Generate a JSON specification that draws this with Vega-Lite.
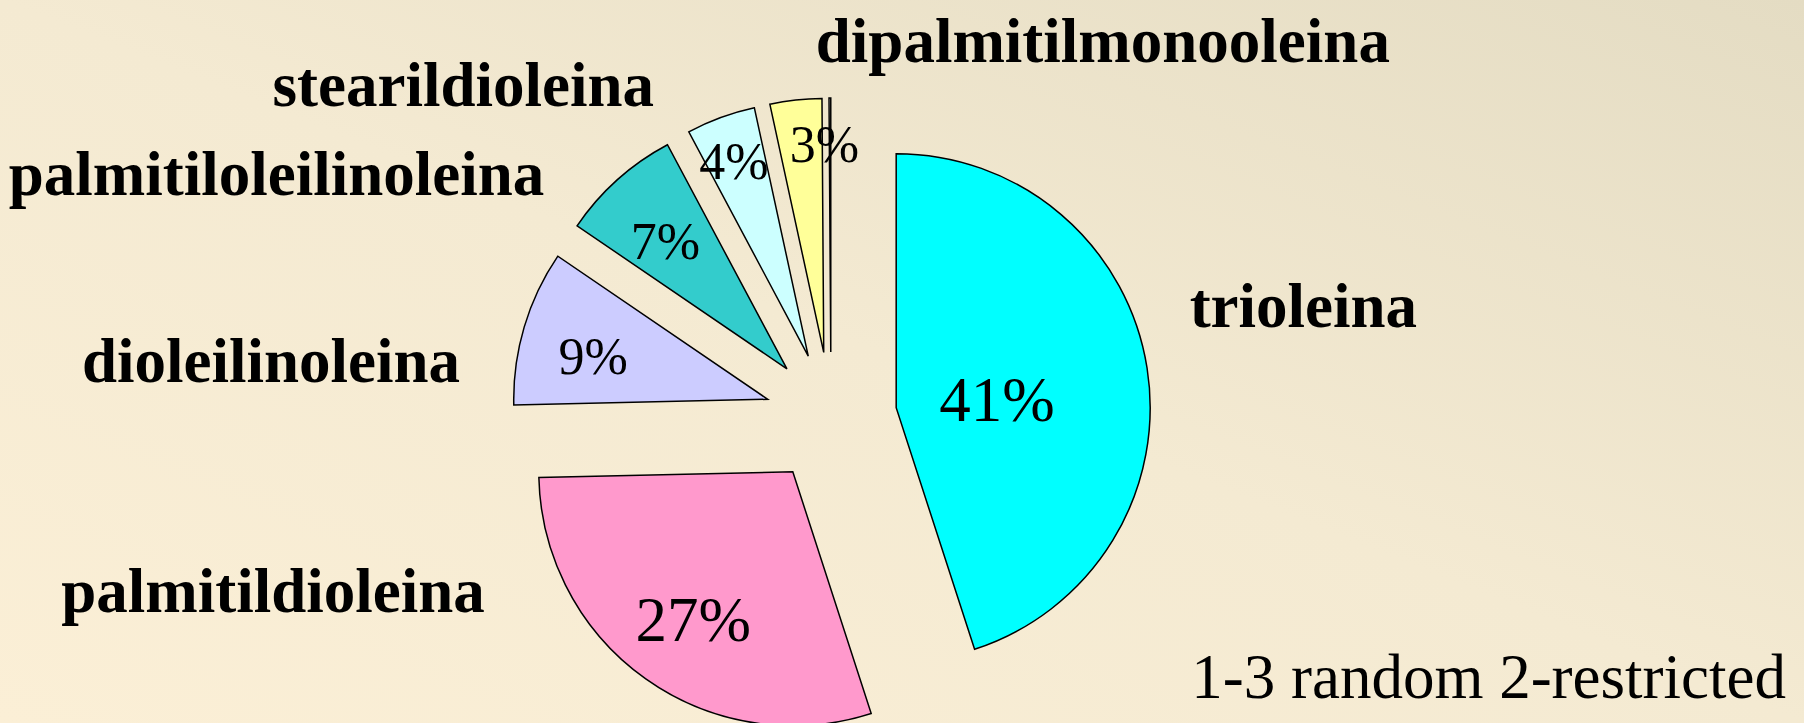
{
  "$schema": "https://vega.github.io/schema/vega-lite/v6.json",
  "width": 1804,
  "height": 723,
  "padding": 0,
  "autosize": {"type": "none"},
  "background": "#F5EBD3",
  "config": {"view": {"stroke": null}},
  "title": {
    "text": "1-3 random 2-restricted",
    "orient": "bottom",
    "anchor": "end",
    "frame": "group",
    "baseline": "alphabetic",
    "offset": -31,
    "dx": -18,
    "font": "Liberation Serif",
    "fontSize": 63,
    "fontWeight": "normal",
    "color": "#000000"
  },
  "layer": [
    {
      "data": {"values": [{}]},
      "mark": {
        "type": "rect",
        "color": {
          "gradient": "linear",
          "x1": 0, "y1": 1, "x2": 1, "y2": 0,
          "stops": [
            {"offset": 0, "color": "#FBEFD6"},
            {"offset": 0.5, "color": "#F4EAD2"},
            {"offset": 1, "color": "#E4DCC3"}
          ]
        }
      },
      "encoding": {}
    },
    {
      "data": {
        "values": [
          {"cat": "trioleina", "value": 41, "ord": 1},
          {"cat": "palmitildioleina", "value": 27, "ord": 2},
          {"cat": "dioleilinoleina", "value": 9, "ord": 3},
          {"cat": "palmitiloleilinoleina", "value": 7, "ord": 4},
          {"cat": "stearildioleina", "value": 4, "ord": 5},
          {"cat": "dipalmitilmonooleina", "value": 3, "ord": 6},
          {"cat": "otros", "value": 0.1, "ord": 7}
        ]
      },
      "transform": [
        {"joinaggregate": [{"op": "sum", "field": "value", "as": "total"}]},
        {"window": [{"op": "sum", "field": "value", "as": "cum"}], "sort": [{"field": "ord"}], "frame": [null, 0]},
        {"calculate": "(datum.cum - datum.value) / datum.total * 2 * PI", "as": "t0"},
        {"calculate": "datum.cum / datum.total * 2 * PI", "as": "t1"},
        {"calculate": "(datum.t0 + datum.t1) / 2", "as": "mid"},
        {"calculate": "66 * sin(datum.mid)", "as": "ex"},
        {"calculate": "-66 * cos(datum.mid)", "as": "ey"},
        {"calculate": "datum.value < 5 ? 282 : 248 - 80 * pow(datum.value / 41, 5)", "as": "lr"},
        {"calculate": "datum.mid + (datum.value < 3.5 ? 5 : 0) * PI / 180", "as": "pa"},
        {"calculate": "datum.lr * sin(datum.pa)", "as": "px"},
        {"calculate": "-datum.lr * cos(datum.pa)", "as": "py"},
        {"calculate": "datum.mid + ((sin(datum.mid) < 0 && sin(datum.mid) > -0.15) ? 4 : -8) * PI / 180", "as": "la"},
        {"calculate": "-375 * cos(datum.la)", "as": "ly0"},
        {"calculate": "min(datum.ly0, 175)", "as": "ly"},
        {"calculate": "375 * sin(datum.la) + (sin(datum.la) < 0 ? -1.1 : 1.1) * (datum.ly0 - datum.ly)", "as": "lx"},
        {"calculate": "datum.value + '%'", "as": "pct"}
      ],
      "layer": [
        {
          "mark": {"type": "arc", "radius": 254, "stroke": "#000000", "strokeWidth": 1.5},
          "encoding": {
            "x": {"field": "ex", "type": "quantitative", "scale": {"domain": [-831, 973], "nice": false, "zero": false}, "axis": null},
            "y": {"field": "ey", "type": "quantitative", "scale": {"domain": [-418, 305], "nice": false, "zero": false, "reverse": true}, "axis": null},
            "theta": {"field": "t0", "type": "quantitative", "scale": null, "stack": null},
            "theta2": {"field": "t1"},
            "color": {
              "field": "cat",
              "type": "nominal",
              "scale": {
                "domain": ["trioleina", "palmitildioleina", "dioleilinoleina", "palmitiloleilinoleina", "stearildioleina", "dipalmitilmonooleina", "otros"],
                "range": ["#00FFFF", "#FF99CC", "#CCCCFF", "#33CCCC", "#CCFFFF", "#FFFF99", "#FFFFFF"]
              },
              "legend": null
            }
          }
        },
        {
          "transform": [{"filter": "datum.value >= 1"}],
          "mark": {"type": "text", "font": "Liberation Serif", "align": "center", "baseline": "middle", "dy": 10, "color": "#000000"},
          "encoding": {
            "x": {"field": "px", "type": "quantitative", "scale": {"domain": [-831, 973], "nice": false, "zero": false}, "axis": null},
            "y": {"field": "py", "type": "quantitative", "scale": {"domain": [-418, 305], "nice": false, "zero": false, "reverse": true}, "axis": null},
            "text": {"field": "pct"},
            "size": {"condition": {"test": "datum.value >= 20", "value": 63}, "value": 52}
          }
        },
        {
          "transform": [{"filter": "datum.value >= 1 && sin(datum.mid) > -0.15"}],
          "mark": {"type": "text", "font": "Liberation Serif", "fontWeight": "bold", "fontSize": 63, "align": "left", "baseline": "middle", "color": "#000000"},
          "encoding": {
            "x": {"field": "lx", "type": "quantitative", "scale": {"domain": [-831, 973], "nice": false, "zero": false}, "axis": null},
            "y": {"field": "ly", "type": "quantitative", "scale": {"domain": [-418, 305], "nice": false, "zero": false, "reverse": true}, "axis": null},
            "text": {"field": "cat"}
          }
        },
        {
          "transform": [{"filter": "datum.value >= 1 && sin(datum.mid) <= -0.15"}],
          "mark": {"type": "text", "font": "Liberation Serif", "fontWeight": "bold", "fontSize": 63, "align": "right", "baseline": "middle", "color": "#000000"},
          "encoding": {
            "x": {"field": "lx", "type": "quantitative", "scale": {"domain": [-831, 973], "nice": false, "zero": false}, "axis": null},
            "y": {"field": "ly", "type": "quantitative", "scale": {"domain": [-418, 305], "nice": false, "zero": false, "reverse": true}, "axis": null},
            "text": {"field": "cat"}
          }
        }
      ]
    }
  ]
}
